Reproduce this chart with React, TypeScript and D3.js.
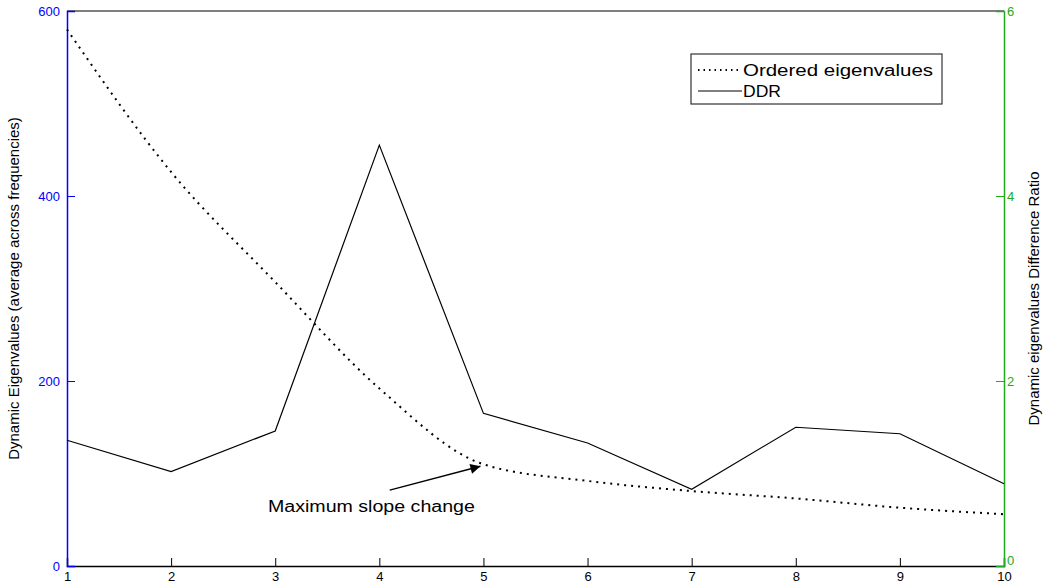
import React, { useRef, useEffect } from 'react';
import * as d3 from 'd3';

// component index 1..10
const components = [1, 2, 3, 4, 5, 6, 7, 8, 9, 10];
// ordered eigenvalues (left axis)
const eigenvalues = [580, 426, 307, 192, 110, 92, 81, 73, 63, 56];
// dynamic eigenvalue difference ratio (right axis)
const ddr = [1.36, 1.02, 1.46, 4.55, 1.65, 1.33, 0.83, 1.5, 1.43, 0.89];

const leftTicks = [0, 200, 400, 600];
const rightTicks = [0, 2, 4, 6];

const W = 1045;
const H = 584;

export default function App() {
  const svgRef = useRef<SVGSVGElement | null>(null);

  useEffect(() => {
    if (!svgRef.current) return;
    const svg = d3.select(svgRef.current);
    svg.selectAll('*').remove();

    const margin = { top: 11, right: 41, bottom: 18, left: 67 };
    const innerWidth = W - margin.left - margin.right;
    const innerHeight = H - margin.top - margin.bottom;
    const font = 'Liberation Sans, Arial, sans-serif';

    const x = d3.scaleLinear().domain([1, 10]).range([0, innerWidth]);
    const yL = d3.scaleLinear().domain([0, 600]).range([innerHeight, 0]);
    const yR = d3.scaleLinear().domain([0, 6]).range([innerHeight, 0]);

    svg.append('rect').attr('width', W).attr('height', H).attr('fill', '#fff');

    const g = svg.append('g')
      .attr('transform', `translate(${margin.left}, ${margin.top})`);

    // top border
    g.append('line')
      .attr('x1', 0).attr('x2', innerWidth)
      .attr('y1', 0).attr('y2', 0)
      .attr('stroke', '#555').attr('stroke-width', 1.5);

    // bottom axis, ticks pointing inward
    const xAxis = g.append('g')
      .attr('transform', `translate(0, ${innerHeight})`)
      .call(d3.axisBottom(x).tickValues(components).tickSize(-8).tickPadding(4).tickFormat(d3.format('d')));
    xAxis.select('.domain').attr('stroke', '#000').attr('stroke-width', 1.5);
    xAxis.selectAll('.tick line').attr('stroke', '#000');
    xAxis.selectAll('text').attr('fill', '#000').attr('font-family', font).attr('font-size', 13)
      .attr('y', 15).attr('dy', null);

    // left axis (blue)
    const leftAxis = g.append('g')
      .call(d3.axisLeft(yL).tickValues(leftTicks).tickSize(-8).tickPadding(7).tickFormat(d3.format('d')));
    leftAxis.select('.domain').attr('stroke', '#0000ff').attr('stroke-width', 1.5);
    leftAxis.selectAll('.tick line').attr('stroke', '#0000ff');
    leftAxis.selectAll('text').attr('fill', '#0000ff').attr('font-family', font).attr('font-size', 13);

    // right axis (green)
    const rightAxis = g.append('g')
      .attr('transform', `translate(${innerWidth}, 0)`)
      .call(d3.axisRight(yR).tickValues(rightTicks).tickSize(-8).tickPadding(3).tickFormat(d3.format('d')));
    rightAxis.select('.domain').attr('stroke', '#22aa22').attr('stroke-width', 1.5);
    rightAxis.selectAll('.tick line').attr('stroke', '#22aa22');
    rightAxis.selectAll('text').attr('fill', '#22aa22').attr('font-family', font).attr('font-size', 13)
      .attr('y', (d: any) => (d === 0 ? -6 : 0));

    // DDR solid line
    const ddrLine = d3.line<number>()
      .x((_, i) => x(components[i]))
      .y(d => yR(d));
    g.append('path')
      .datum(ddr)
      .attr('d', ddrLine)
      .attr('fill', 'none')
      .attr('stroke', '#000')
      .attr('stroke-width', 1.2);

    // eigenvalues dotted line
    const eigLine = d3.line<number>()
      .x((_, i) => x(components[i]))
      .y(d => yL(d))
      .curve(d3.curveMonotoneX);
    g.append('path')
      .datum(eigenvalues)
      .attr('d', eigLine)
      .attr('fill', 'none')
      .attr('stroke', '#000')
      .attr('stroke-width', 2)
      .attr('stroke-dasharray', '2,5');

    // annotation arrow
    const defs = svg.append('defs');
    defs.append('marker')
      .attr('id', 'arrowhead')
      .attr('viewBox', '0 0 10 10')
      .attr('refX', 10).attr('refY', 5)
      .attr('markerWidth', 14).attr('markerHeight', 10)
      .attr('markerUnits', 'userSpaceOnUse')
      .attr('orient', 'auto')
      .append('path')
      .attr('d', 'M0,0 L10,5 L0,10 z')
      .attr('fill', '#000');

    const tipX = x(5) - 3;
    const tipY = yL(eigenvalues[4]) + 2;
    g.append('line')
      .attr('x1', x(4.1)).attr('y1', yL(82))
      .attr('x2', tipX).attr('y2', tipY)
      .attr('stroke', '#000')
      .attr('stroke-width', 1.3)
      .attr('marker-end', 'url(#arrowhead)');

    g.append('text')
      .attr('x', x(2.93))
      .attr('y', yL(58))
      .attr('textLength', 207)
      .attr('lengthAdjust', 'spacingAndGlyphs')
      .attr('font-family', font)
      .attr('font-size', 16)
      .attr('fill', '#000')
      .text('Maximum slope change');

    // axis labels
    svg.append('text')
      .attr('transform', `translate(19, ${margin.top + innerHeight / 2}) rotate(-90)`)
      .attr('text-anchor', 'middle')
      .attr('font-family', font)
      .attr('font-size', 15)
      .attr('fill', '#000')
      .text('Dynamic Eigenvalues (average across frequencies)');

    svg.append('text')
      .attr('transform', `translate(1039, ${margin.top + innerHeight / 2 + 10}) rotate(-90)`)
      .attr('text-anchor', 'middle')
      .attr('font-family', font)
      .attr('font-size', 15)
      .attr('fill', '#000')
      .text('Dynamic eigenvalues Difference Ratio');

    // legend
    const legend = svg.append('g').attr('transform', 'translate(691, 54)');
    legend.append('rect')
      .attr('width', 251).attr('height', 50)
      .attr('fill', '#fff')
      .attr('stroke', '#333').attr('stroke-width', 1.2);

    const items = [
      { label: 'Ordered eigenvalues', dash: '1.5,4', width: 2, len: 190 },
      { label: 'DDR', dash: null, width: 1.2, len: 38 },
    ];
    items.forEach((item, i) => {
      const yy = 16 + i * 21;
      const line = legend.append('line')
        .attr('x1', 7).attr('x2', 51)
        .attr('y1', yy).attr('y2', yy)
        .attr('stroke', '#000')
        .attr('stroke-width', item.width);
      if (item.dash) line.attr('stroke-dasharray', item.dash);
      legend.append('text')
        .attr('x', 52)
        .attr('y', yy + 6)
        .attr('textLength', item.len)
        .attr('lengthAdjust', 'spacingAndGlyphs')
        .attr('font-family', font)
        .attr('font-size', 16)
        .attr('fill', '#000')
        .text(item.label);
    });
  }, []);

  return (
    <svg
      ref={svgRef}
      width={W}
      height={H}
      style={{ position: 'absolute', left: 0, top: 0, display: 'block' }}
    />
  );
}
